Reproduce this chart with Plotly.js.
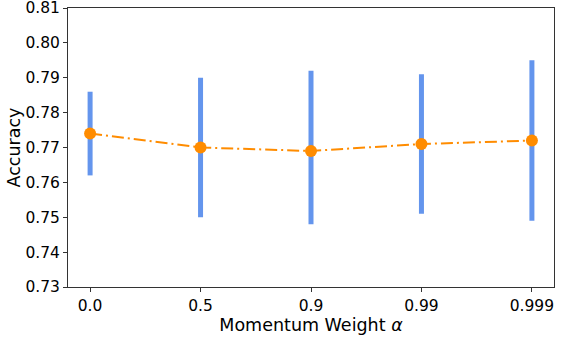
<!DOCTYPE html>
<html>
<head>
<meta charset="utf-8">
<script src="https://cdn.plot.ly/plotly-3.0.1.min.js"></script>
<style>
  html, body { margin: 0; padding: 0; background: #fff; }
  #container { width: 565px; height: 339px; }
</style>
</head>
<body>
<div id="container"></div>
<script>
var alphaLabels = ['0.0', '0.5', '0.9', '0.99', '0.999'];
var accuracy = [0.774, 0.770, 0.769, 0.771, 0.772];
var errUpper = [0.012, 0.020, 0.023, 0.020, 0.023];
var errLower = [0.012, 0.020, 0.021, 0.020, 0.023];
var yTicks = [0.73, 0.74, 0.75, 0.76, 0.77, 0.78, 0.79, 0.80, 0.81];

var tickFont = {family: 'DejaVu Sans', size: 15.5, color: '#000'};
var titleFont = {family: 'DejaVu Sans', size: 17.5, color: '#000'};

// error bars drawn as their own trace so they sit under the line
var bars = {
    x: [0, 1, 2, 3, 4],
    y: accuracy,
    mode: 'markers',
    type: 'scatter',
    marker: {size: 1, color: 'rgba(0,0,0,0)'},
    error_y: {
        type: 'data',
        symmetric: false,
        array: errUpper,
        arrayminus: errLower,
        color: '#6495ED',
        thickness: 5,
        width: 0
    },
    hoverinfo: 'skip'
};

var line = {
    x: [0, 1, 2, 3, 4],
    y: accuracy,
    mode: 'lines+markers',
    type: 'scatter',
    line: {color: '#FF8C00', width: 2, dash: '12px,4px,2px,4px'},
    marker: {size: 12, color: '#FF8C00'}
};

var layout = {
    width: 565,
    height: 339,
    showlegend: false,
    plot_bgcolor: '#fff',
    paper_bgcolor: '#fff',
    margin: {l: 68, r: 11, t: 8, b: 52, pad: 0},
    font: tickFont,
    xaxis: {
        range: [-0.2, 4.2],
        tickvals: [0, 1, 2, 3, 4],
        ticktext: alphaLabels,
        showgrid: false,
        zeroline: false,
        showline: true,
        mirror: true,
        linecolor: '#333',
        linewidth: 1,
        ticks: 'outside',
        ticklen: 4,
        tickcolor: '#333',
        tickfont: tickFont,
        title: {text: 'Momentum Weight <i>α</i>', font: titleFont, standoff: 2}
    },
    yaxis: {
        range: [0.73, 0.81001],
        tickvals: yTicks,
        tickformat: '.2f',
        showgrid: false,
        zeroline: false,
        showline: true,
        mirror: true,
        linecolor: '#333',
        linewidth: 1,
        ticks: 'outside',
        ticklen: 4,
        tickcolor: '#333',
        tickfont: tickFont,
        ticklabeloverflow: 'allow',
        title: {text: 'Accuracy', font: titleFont, standoff: 0}
    }
};

Plotly.newPlot('container', [bars, line], layout, {displayModeBar: false, staticPlot: true});
</script>
</body>
</html>
